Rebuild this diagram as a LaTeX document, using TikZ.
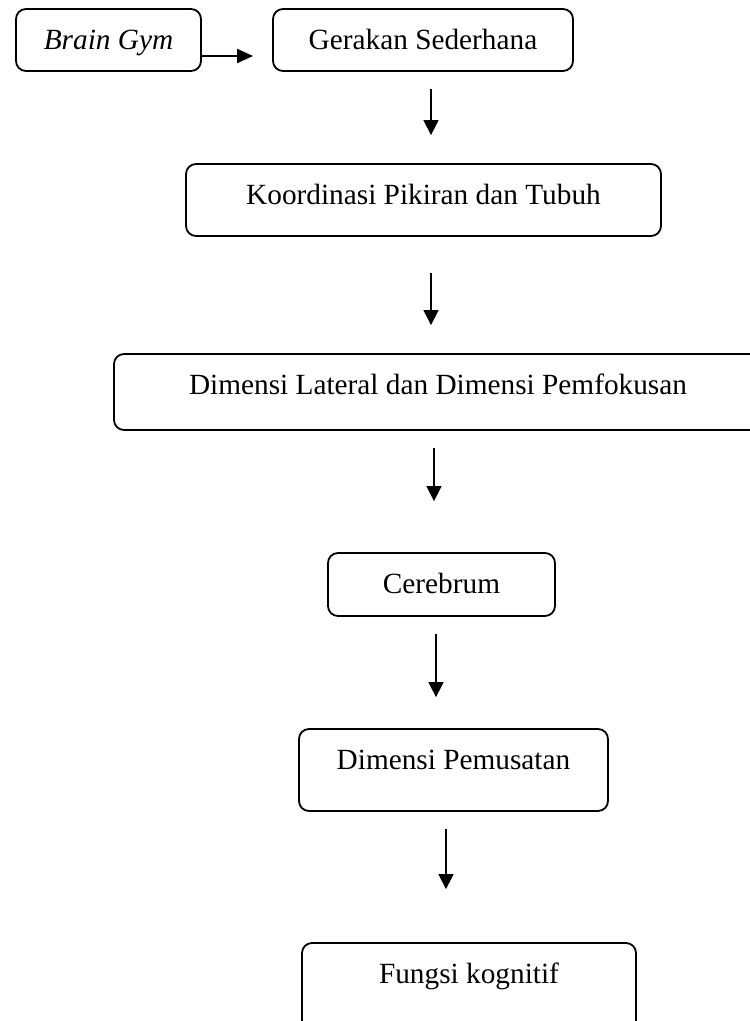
\documentclass[tikz,border=0pt]{standalone}
\usepackage{fontspec}
\setmainfont{Liberation Serif}
\usetikzlibrary{arrows.meta}
\begin{document}
\begin{tikzpicture}[x=1pt,y=-1pt,
  box/.style={draw, line width=1.8pt, rounded corners=10pt, inner xsep=0pt, inner ysep=0pt,
    font=\fontsize{29.3}{34}\selectfont, text height=40pt, align=center},
  arr/.style={line width=1.4pt, -{Triangle[length=15pt,width=15pt]}},
  harr/.style={line width=2pt, -{Triangle[length=16pt,width=14pt]}}]
\useasboundingbox (0,0) rectangle (750,1021);
\clip (0,0) rectangle (750,1021);
\node[box, minimum width=185pt, text depth=22pt] (bg) at (108.5,40) {\textit{Brain Gym}};
\node[box, minimum width=300pt, text depth=22pt] (g) at (423,40) {Gerakan Sederhana};
\node[box, minimum width=475pt, text depth=32pt] (k) at (423.5,200) {Koordinasi Pikiran dan Tubuh};
\node[box, minimum width=648pt, text depth=36pt] (dl) at (438,392) {Dimensi Lateral dan Dimensi Pemfokusan};
\node[box, minimum width=227pt, text depth=23pt] (c) at (441.5,584.5) {Cerebrum};
\node[box, minimum width=309pt, text depth=42pt] (dp) at (453.5,770) {Dimensi Pemusatan};
\node[box, minimum width=334pt, text depth=47pt] (f) at (469,986.5) {Fungsi kognitif};
\draw[harr] ([yshift=-16pt]bg.east) -- ([xshift=-19pt,yshift=-16pt]g.west);
\draw[arr] ([xshift=8pt,yshift=-17pt]g.south) -- ([xshift=7.5pt,yshift=28pt]k.north);
\draw[arr] ([xshift=7.5pt,yshift=-36pt]k.south) -- ([xshift=-7pt,yshift=28pt]dl.north);
\draw[arr] ([xshift=-4pt,yshift=-17pt]dl.south) -- ([xshift=-7.5pt,yshift=51pt]c.north);
\draw[arr] ([xshift=-5.5pt,yshift=-17pt]c.south) -- ([xshift=-17.5pt,yshift=31pt]dp.north);
\draw[arr] ([xshift=-7.5pt,yshift=-17pt]dp.south) -- ([xshift=-23pt,yshift=53pt]f.north);
\end{tikzpicture}
\end{document}
